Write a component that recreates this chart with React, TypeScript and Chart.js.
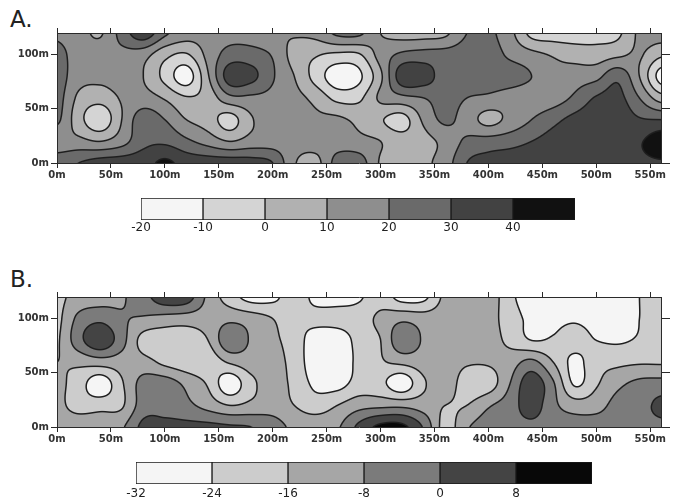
import React, { useEffect, useRef } from 'react';
import { Chart, registerables } from 'chart.js';

Chart.register(...registerables);

// Survey grid node positions (metres). Rows run from the top edge (120 m) down to 0 m.
const gridX = [0, 20, 40, 60, 80, 100, 120, 140, 160, 180, 200, 220, 240, 260, 280, 300, 320, 340, 360, 380, 400, 420, 440, 460, 480, 500, 520, 540, 560];
const gridY = [120, 100, 80, 60, 40, 20, 0];

// Panel A values (one array per grid row)
const aRow120 = [18, 14, 9, 24, 36, 22, 15, 14, 16, 15, 11, 11, 13, 22, 22, 10, 6, 6, 8, 20, 22, 13, -3, -5, -5, -4, -2, 12, 15];
const aRow100 = [24, 15, 15, 17, 14, 3, -1, 13, 24, 24, 19, 6, 1, -2, -1, 14, 22, 24, 24, 25, 25, 18, 13, 9, 6, 5, 8, 11, 2];
const aRow80 = [25, 14, 13, 15, 10, -3, -15, 9, 35, 33, 21, 10, -4, -16, -12, 8, 36, 35, 25, 25, 26, 25, 20, 13, 15, 17, 27, 10, -14];
const aRow60 = [24, 8, 4, 11, 14, 9, 1, 4, 17, 18, 17, 13, 7, -3, -2, 12, 17, 20, 24, 20, 18, 15, 14, 15, 22, 31, 33, 20, 5];
const aRow40 = [22, 4, -7, 10, 26, 20, 10, 5, -4, 9, 15, 14, 12, 12, 7, 1, -4, 12, 22, 15, 7, 13, 20, 27, 33, 36, 36, 31, 30];
const aRow20 = [14, 13, 10, 16, 27, 28, 22, 16, 10, 14, 15, 14, 14, 15, 13, 10, 5, 7, 13, 22, 24, 26, 30, 34, 36, 37, 37, 39, 46];
const aRow0 = [26, 30, 34, 35, 36, 42, 36, 35, 35, 34, 30, 11, 7, 24, 25, 9, 6, 8, 15, 30, 34, 36, 37, 37, 37, 37, 37, 38, 39];

// Panel B values
const bRow120 = [-18, -13, -12, -9, -3, 5, 4, -10, -20, -27, -26, -20, -26, -27, -25, -20, -27, -26, -14, -12, -11, -22, -28, -29, -29, -29, -28, -24, -16];
const bRow100 = [-18, -6, -2, -7, -9, -11, -12, -12, -10, -12, -16, -22, -22, -21, -20, -14, -10, -12, -12, -12, -13, -20, -26, -26, -25, -27, -28, -24, -20];
const bRow80 = [-17, -3, 6, -5, -19, -21, -21, -16, -2, -9, -14, -20, -28, -29, -21, -16, -2, -9, -12, -12, -13, -18, -24, -23, -21, -24, -25, -23, -20];
const bRow60 = [-16, -14, -12, -12, -13, -18, -21, -21, -15, -12, -13, -19, -29, -29, -22, -17, -14, -12, -12, -15, -15, -12, -6, -16, -26, -19, -18, -17, -17];
const bRow40 = [-14, -20, -29, -17, -5, -4, -10, -17, -29, -18, -13, -18, -26, -27, -21, -22, -29, -17, -12, -20, -20, -8, 5, -7, -25, -17, -10, -6, -5];
const bRow20 = [-14, -19, -19, -17, -4, -3, -6, -11, -16, -14, -12, -16, -20, -16, -11, -10, -10, -12, -16, -16, -9, -4, 4, -6, -12, -11, -5, -3, 2];
const bRow0 = [-12, -11, -10, -9, 2, 2, 2, 2, 1, 0, -4, -10, -11, -9, 2, 10, 10, -1, -19, -9, -4, -3, -2, -4, -4, -4, -4, -3, -2];

// Contour class boundaries (legend) and fill colours
const levelsA = [-20, -10, 0, 10, 20, 30, 40, 50];
const colorsA = ['#f5f5f5', '#d4d4d4', '#b1b1b1', '#8e8e8e', '#6a6a6a', '#424242', '#111111'];
const levelsB = [-32, -24, -16, -8, 0, 8, 16];
const colorsB = ['#f5f5f5', '#cccccc', '#a6a6a6', '#7b7b7b', '#444444', '#080808'];

const gridA = [aRow120, aRow100, aRow80, aRow60, aRow40, aRow20, aRow0];
const gridB = [bRow120, bRow100, bRow80, bRow60, bRow40, bRow20, bRow0];

function hexToRgb(h: string) {
  const n = parseInt(h.slice(1), 16);
  return [(n >> 16) & 255, (n >> 8) & 255, n & 255];
}

function cr(p0: number, p1: number, p2: number, p3: number, t: number) {
  return p1 + 0.5 * t * (p2 - p0 + t * (2 * p0 - 5 * p1 + 4 * p2 - p3 + t * (3 * (p1 - p2) + p3 - p0)));
}

function sample(grid: number[][], gx: number, gy: number) {
  const rows = grid.length;
  const cols = grid[0].length;
  const ix = Math.min(cols - 2, Math.floor(gx));
  const iy = Math.min(rows - 2, Math.floor(gy));
  const tx = gx - ix;
  const ty = gy - iy;
  const c = (i: number) => Math.min(cols - 1, Math.max(0, i));
  const r = (j: number) => Math.min(rows - 1, Math.max(0, j));
  const v: number[] = [];
  for (let m = -1; m <= 2; m++) {
    const R = grid[r(iy + m)];
    v.push(cr(R[c(ix - 1)], R[c(ix)], R[c(ix + 1)], R[c(ix + 2)], tx));
  }
  return cr(v[0], v[1], v[2], v[3], ty);
}

function makeFieldPlugin(grid: number[][], levels: number[], colors: string[]) {
  const th = levels.slice(1, -1);
  const rgb = colors.map(hexToRgb);
  const lineRgb = [30, 30, 30];
  const halfW = 0.75;
  return {
    id: 'contourField',
    beforeDraw(chart: any) {
      const { ctx, chartArea: a, scales } = chart;
      const sx = scales.x;
      const sy = scales.y;
      const x0 = Math.round(a.left);
      const y0 = Math.round(a.top);
      const w = Math.round(a.right) - x0;
      const h = Math.round(a.bottom) - y0;
      const W = w + 2;
      const H = h + 2;
      const vals = new Float64Array(W * H);
      const nx = grid[0].length - 1;
      const ny = grid.length - 1;
      const dx = gridX[1] - gridX[0];
      const dy = gridY[0] - gridY[1];
      for (let j = 0; j < H; j++) {
        const my = sy.getValueForPixel(y0 + j - 0.5);
        const gy = Math.min(ny, Math.max(0, (gridY[0] - my) / dy));
        for (let i = 0; i < W; i++) {
          const mx = sx.getValueForPixel(x0 + i - 0.5);
          const gx = Math.min(nx, Math.max(0, (mx - gridX[0]) / dx));
          vals[j * W + i] = sample(grid, gx, gy);
        }
      }
      const img = ctx.createImageData(w, h);
      const d = img.data;
      for (let j = 0; j < h; j++) {
        for (let i = 0; i < w; i++) {
          const k = (j + 1) * W + (i + 1);
          const v = vals[k];
          let lvl = 0;
          for (let t = 0; t < th.length; t++) if (v >= th[t]) lvl = t + 1;
          const col = rgb[Math.min(rgb.length - 1, lvl)];
          const gxv = (vals[k + 1] - vals[k - 1]) / 2;
          const gyv = (vals[k + W] - vals[k - W]) / 2;
          const g = Math.hypot(gxv, gyv) + 1e-9;
          let dmin = 1e9;
          for (let t = 0; t < th.length; t++) {
            const dd = Math.abs(v - th[t]) / g;
            if (dd < dmin) dmin = dd;
          }
          const al = Math.max(0, Math.min(1, halfW + 0.5 - dmin));
          const o = (j * w + i) * 4;
          d[o] = col[0] * (1 - al) + lineRgb[0] * al;
          d[o + 1] = col[1] * (1 - al) + lineRgb[1] * al;
          d[o + 2] = col[2] * (1 - al) + lineRgb[2] * al;
          d[o + 3] = 255;
        }
      }
      ctx.putImageData(img, x0, y0);
    },
  };
}

const axisColor = '#2a2a2a';
const mapTickFont = { family: '"DejaVu Sans", sans-serif', size: 10, weight: 'bold' as const };
const barTickFont = { family: '"DejaVu Sans", sans-serif', size: 12, weight: 'normal' as const };

function gridOpt(len: number) {
  return { display: true, drawOnChartArea: false, drawTicks: true, tickLength: len, color: axisColor, lineWidth: 1 };
}
const borderOpt = { display: true, color: axisColor, width: 1 };

function MapChart({ top, grid, levels, colors }: { top: number; grid: number[][]; levels: number[]; colors: string[] }) {
  const ref = useRef<HTMLCanvasElement>(null);
  useEffect(() => {
    const chart = new Chart(ref.current as HTMLCanvasElement, {
      type: 'scatter',
      data: { datasets: [{ data: [] }] },
      options: {
        animation: false,
        responsive: false,
        events: [],
        layout: { padding: { left: 7, right: 6, top: 28, bottom: 4 } },
        plugins: { legend: { display: false }, tooltip: { enabled: false } },
        scales: {
          x: {
            type: 'linear', position: 'bottom', min: 0, max: 560,
            ticks: { stepSize: 50, includeBounds: false, autoSkip: false, maxRotation: 0, minRotation: 0, padding: 1, font: mapTickFont, color: '#333', callback: (v: any) => `${v}m` },
            grid: gridOpt(5), border: borderOpt,
            afterFit: (s: any) => { s.height = 18; },
          },
          x2: {
            type: 'linear', position: 'top', min: 0, max: 560,
            ticks: { display: false, stepSize: 50, includeBounds: false },
            grid: gridOpt(5), border: borderOpt,
            afterFit: (s: any) => { s.height = 5; },
          },
          y: {
            type: 'linear', position: 'left', min: 0, max: 120,
            ticks: { stepSize: 50, includeBounds: false, autoSkip: false, padding: 2, font: mapTickFont, color: '#333', callback: (v: any) => `${v}m` },
            grid: gridOpt(6), border: borderOpt,
            afterFit: (s: any) => { s.width = 50; },
          },
          y2: {
            type: 'linear', position: 'right', min: 0, max: 120,
            ticks: { display: false, stepSize: 50, includeBounds: false },
            grid: gridOpt(9), border: borderOpt,
            afterFit: (s: any) => { s.width = 10; },
          },
        },
      } as any,
      plugins: [makeFieldPlugin(grid, levels, colors)],
    });
    return () => chart.destroy();
  }, []);
  return <canvas ref={ref} width={677} height={185} style={{ position: 'absolute', left: 0, top, width: 677, height: 185 }} />;
}

function ColorBar({ top, left, right, levels, colors, labelPad }: { top: number; left: number; right: number; levels: number[]; colors: string[]; labelPad: number }) {
  const ref = useRef<HTMLCanvasElement>(null);
  useEffect(() => {
    const max = levels[levels.length - 1];
    const chart = new Chart(ref.current as HTMLCanvasElement, {
      type: 'bar',
      data: {
        labels: [''],
        datasets: colors.map((c, i) => ({
          data: [[levels[i], levels[i + 1]]],
          backgroundColor: c,
          borderColor: '#1a1a1a',
          borderWidth: 1,
          borderSkipped: false,
          barPercentage: 1,
          categoryPercentage: 1,
          grouped: false,
        })),
      },
      options: {
        indexAxis: 'y',
        animation: false,
        responsive: false,
        events: [],
        layout: { padding: { left, right: 677 - right, top: 8, bottom: 0 } },
        plugins: { legend: { display: false }, tooltip: { enabled: false } },
        scales: {
          x: {
            type: 'linear', min: levels[0], max,
            ticks: { stepSize: levels[1] - levels[0], includeBounds: false, autoSkip: false, maxRotation: 0, minRotation: 0, padding: labelPad, color: '#222', font: barTickFont, callback: (v: any) => (v === max ? '' : String(v)) },
            grid: { display: false, drawTicks: false, tickLength: 0 }, border: { display: false },
            afterFit: (s: any) => { s.height = 22; },
          },
          y: { display: false },
        },
      } as any,
    });
    return () => chart.destroy();
  }, []);
  return <canvas ref={ref} width={677} height={52} style={{ position: 'absolute', left: 0, top, width: 677, height: 52 }} />;
}

const panelLabel: React.CSSProperties = {
  position: 'absolute',
  fontFamily: '"DejaVu Sans", sans-serif',
  fontSize: 23,
  lineHeight: '23px',
  color: '#222',
};

export default function App() {
  return (
    <div style={{ position: 'absolute', left: 0, top: 0, width: 677, height: 504, background: '#fff', overflow: 'hidden' }}>
      <div style={{ ...panelLabel, left: 10, top: 8 }}>A.</div>
      <MapChart top={0} grid={gridA} levels={levelsA} colors={colorsA} />
      <ColorBar top={190} left={141} right={575} levels={levelsA} colors={colorsA} labelPad={1} />
      <div style={{ ...panelLabel, left: 10, top: 268 }}>B.</div>
      <MapChart top={264} grid={gridB} levels={levelsB} colors={colorsB} />
      <ColorBar top={454} left={136} right={592} levels={levelsB} colors={colorsB} labelPad={3} />
    </div>
  );
}
